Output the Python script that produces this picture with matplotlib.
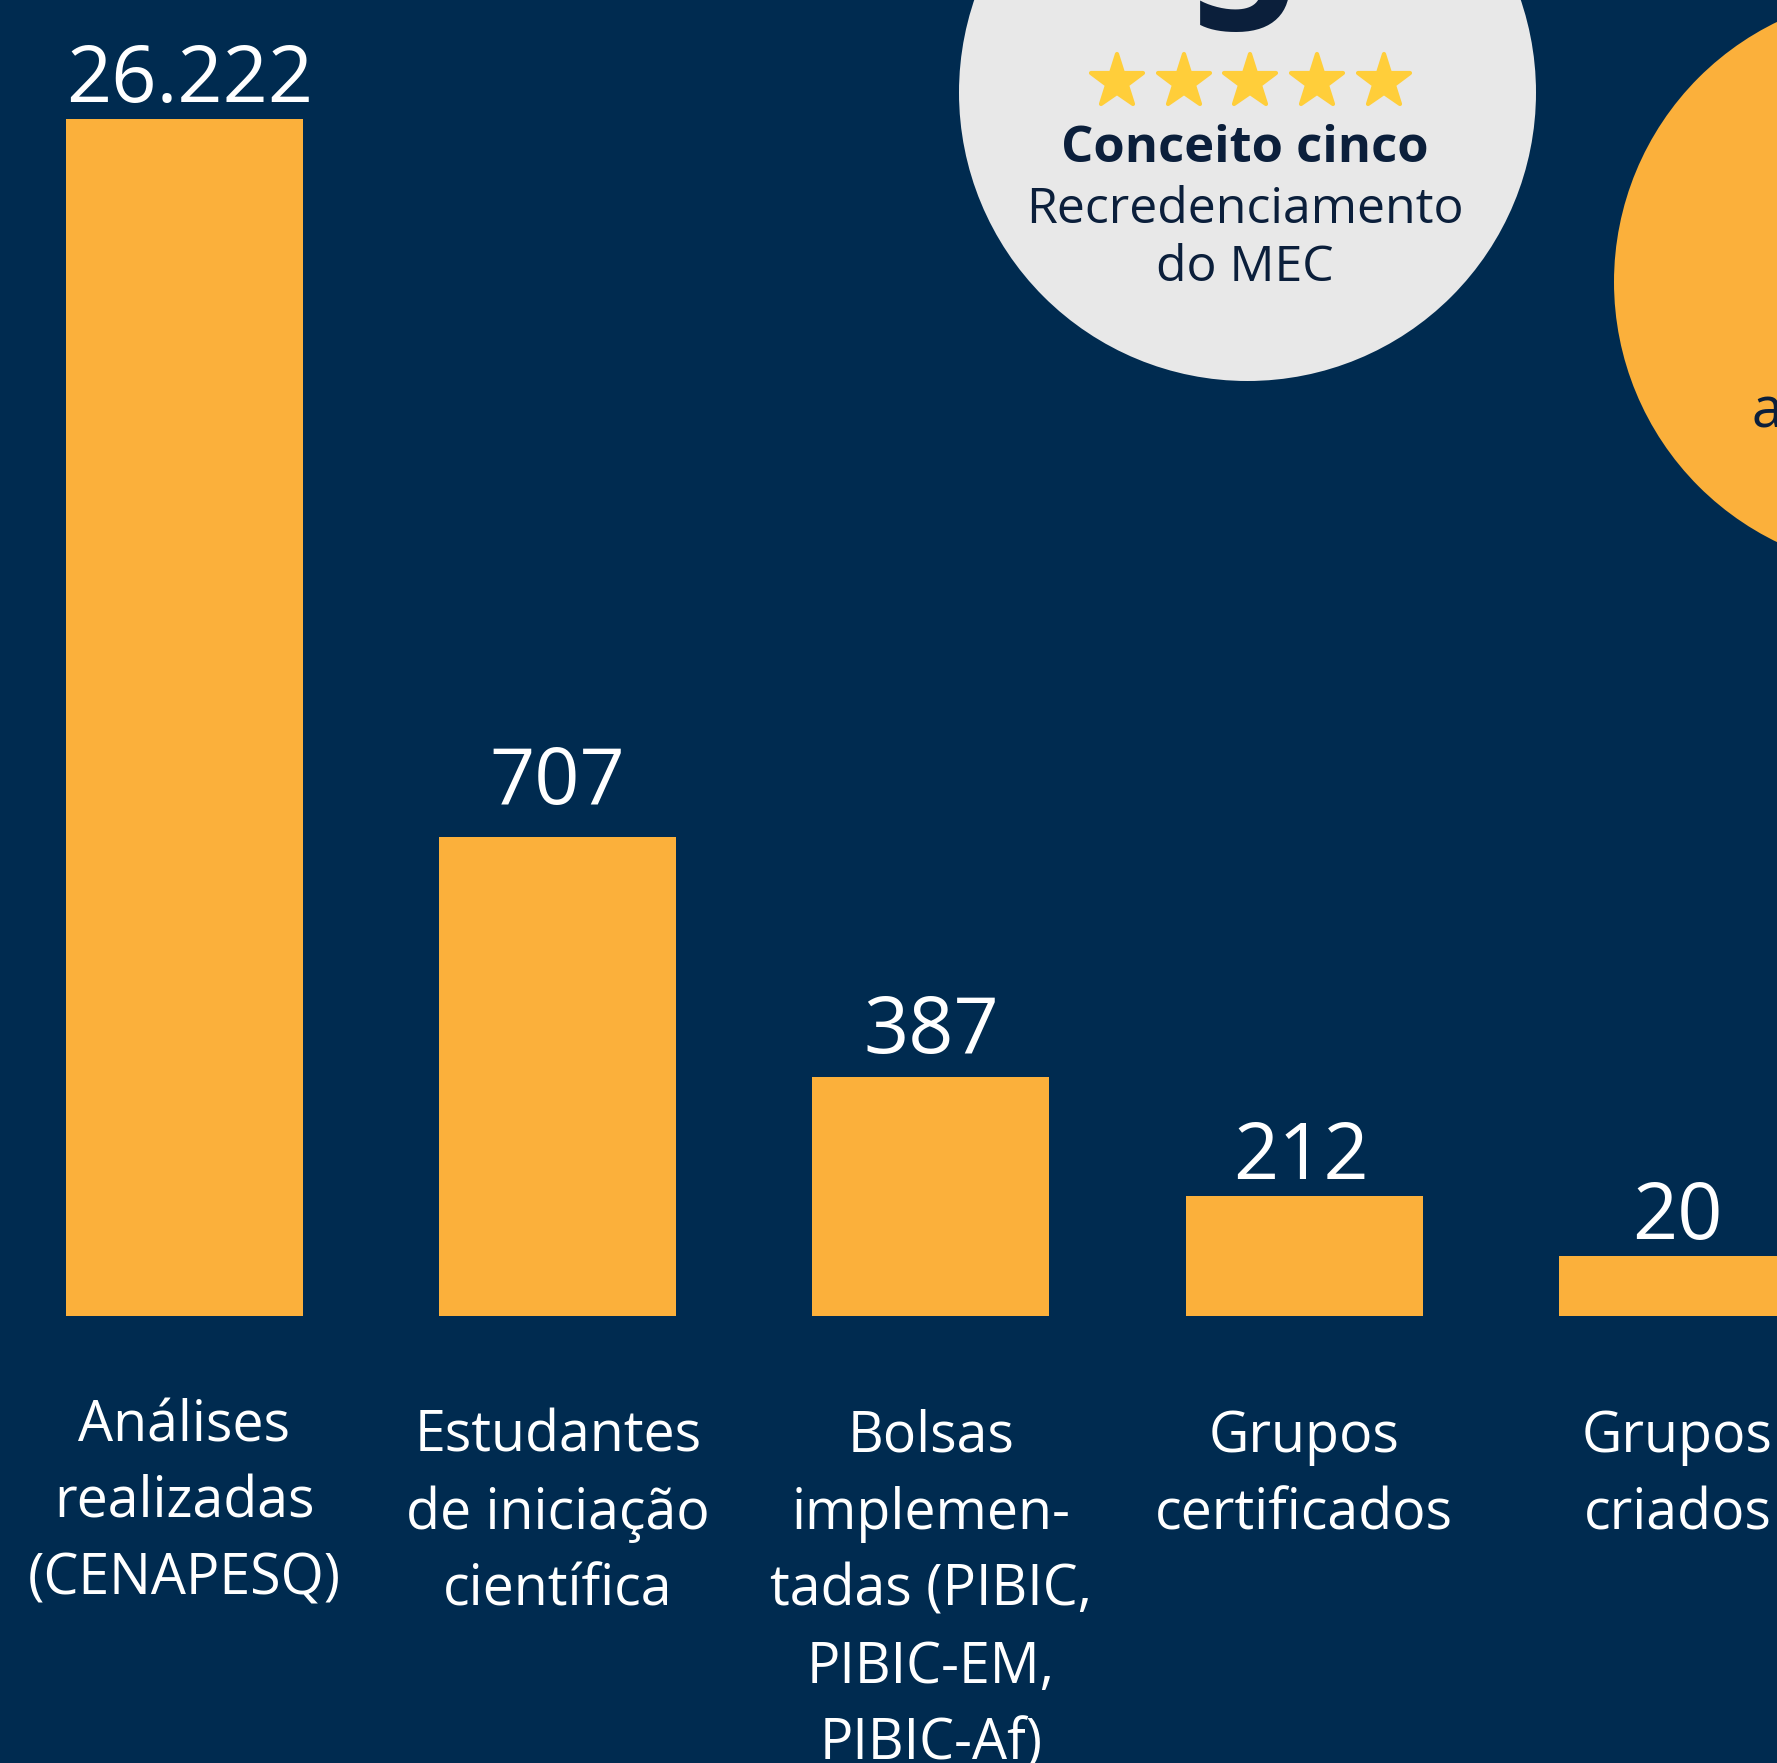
import matplotlib.pyplot as plt
from matplotlib.markers import MarkerStyle
from matplotlib.patches import Circle

# Dados do gráfico (alturas das barras como aparecem no infográfico)
categorias = [
    'Análises\nrealizadas\n(CENAPESQ)',
    'Estudantes\nde iniciação\ncientífica',
    'Bolsas\nimplemen-\ntadas (PIBIC,\nPIBIC-EM,\nPIBIC-Af)',
    'Grupos\ncertificados',
    'Grupos\ncriados',
]
valores = ['26.222', '707', '387', '212', '20']
alturas = [100, 40, 20, 10, 5]

FUNDO = '#002b50'
LARANJA = '#fbb03b'
CINZA = '#e8e8e8'
ESCURO = '#0b1f3b'
ESTRELA = '#ffce3a'

plt.rcParams['font.family'] = ['Open Sans', 'DejaVu Sans']

W, H = 1777, 1763
fig = plt.figure(figsize=(W / 100, H / 100), dpi=100, facecolor=FUNDO)

# Eixo de decoração em pixels (círculos, estrelas, textos do selo)
deco = fig.add_axes([0, 0, 1, 1], zorder=0)
deco.set_xlim(0, W)
deco.set_ylim(H, 0)
deco.set_facecolor(FUNDO)
deco.axis('off')

deco.add_patch(Circle((1247.5, 92.5), 288.5, color=CINZA, lw=0))
deco.add_patch(Circle((1903, 282), 289, color=LARANJA, lw=0))

deco.text(1244, 30, '5', ha='center', va='baseline', fontsize=135,
          fontweight='bold', color=ESCURO)
estrelas_x = [1116.5, 1183.5, 1250, 1317, 1383.5]
estrela = MarkerStyle('*', joinstyle='round')
deco.plot(estrelas_x, [82] * 5, ls='none', marker=estrela, ms=40,
          color=ESTRELA, mec=ESTRELA, mew=3)
deco.text(1245, 162, 'Conceito cinco', ha='center', va='baseline',
          fontsize=36.5, fontweight='bold', color=ESCURO)
deco.text(1245, 223, 'Recredenciamento', ha='center', va='baseline',
          fontsize=36, color=ESCURO)
deco.text(1245, 281, 'do MEC', ha='center', va='baseline',
          fontsize=36, color=ESCURO)
deco.text(1752, 428, 'a', ha='left', va='baseline', fontsize=40, color=ESCURO)

# Eixo das barras
ax = fig.add_axes([0, 0, 1, 1], zorder=1)
ax.set_facecolor('none')
px_x = 373.25      # pixels por unidade em x
px_y = 11.97       # pixels por unidade em y
base = 1316        # linha de base das barras (pixel a partir do topo)
ax.set_xlim(-184.5 / px_x, (W - 184.5) / px_x)
ax.set_ylim(-(H - base) / px_y, base / px_y)
ax.axis('off')

pos = range(len(alturas))
ax.bar(pos, alturas, width=237 / px_x, color=LARANJA, lw=0)

folga = [17, 33, 24, 17, 17]   # espaço (px) entre barra e número
desloc = [5, 0, 0, -3, 0]      # ajuste horizontal (px) do número
for i, (h, v) in enumerate(zip(alturas, valores)):
    ax.text(i + desloc[i] / px_x, h + folga[i] / px_y, v, ha='center',
            va='baseline', fontsize=57, color='white')

for i, cat in enumerate(categorias):
    y0 = 1441 if i == 0 else 1452
    for k, linha in enumerate(cat.split('\n')):
        ax.text(i, (base - (y0 + 77 * k)) / px_y, linha, ha='center',
                va='baseline', fontsize=40, color='white')

fig.savefig('out.png', dpi=100, facecolor=FUNDO)
